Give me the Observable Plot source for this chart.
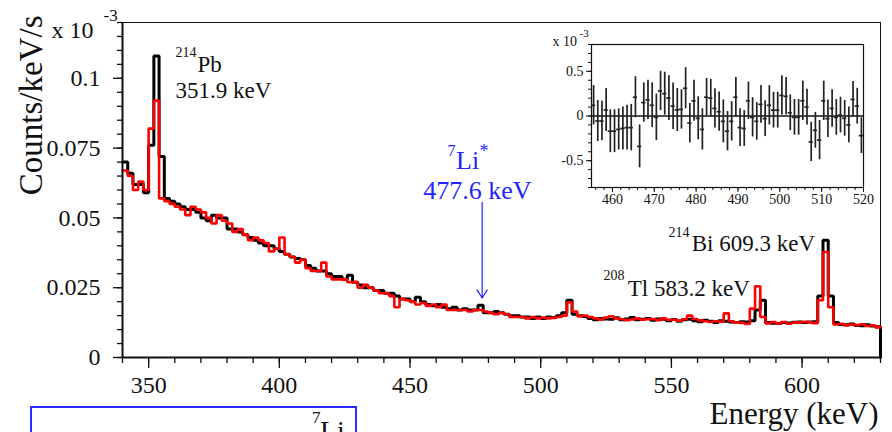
<!DOCTYPE html>
<html><head><meta charset="utf-8">
<script src="https://cdn.jsdelivr.net/npm/d3@7"></script>
<script src="https://cdn.jsdelivr.net/npm/@observablehq/plot@0.6"></script>
<style>
html, body { margin:0; padding:0; overflow:hidden; background:#fff; }
#wrap { position:relative; width:892px; height:432px; font-family:"Liberation Serif", "Times New Roman", serif; color:#111; }
#wrap svg, #wrap svg text { font-family:"Liberation Serif", "Times New Roman", serif !important; }
#inset { position:absolute; left:540px; top:20px; }
#box { position:absolute; left:30px; top:406px; width:323px; height:60px; border:2px solid #2a2aff; }
.lab { position:absolute; line-height:1; white-space:nowrap; font-family:"Liberation Serif", serif; }
</style>
</head><body>
<div id="wrap"><div id="main"></div><div id="inset"></div><div id="box"></div>
<span class="lab" style="left:312px; top:409px; font-size:17px;">7</span>
<span class="lab" style="left:320px; top:417px; font-size:28px;">Li</span>
</div>
<script>
// ---- Main spectrum: 2 keV bins starting at 340 keV (Counts/keV/s, x 10^-3)
const binStart = 340, binWidth = 2;
const blackCounts = [
 0.070, 0.066, 0.062, 0.062, 0.059, 0.076, 0.108, 0.072, 0.057, 0.056,
 0.055, 0.054, 0.053, 0.053, 0.052, 0.050, 0.049, 0.051, 0.050, 0.050,
 0.046, 0.046, 0.045, 0.044, 0.043, 0.042, 0.041, 0.040, 0.040, 0.039,
 0.038, 0.037, 0.036, 0.0355, 0.035, 0.033, 0.032, 0.031, 0.031, 0.030,
 0.029, 0.029, 0.028, 0.0295, 0.027, 0.026, 0.025, 0.025, 0.024, 0.024,
 0.023, 0.023, 0.022, 0.021, 0.021, 0.020, 0.0216, 0.020, 0.019, 0.0185,
 0.019, 0.018, 0.0175, 0.018, 0.017, 0.0175, 0.017, 0.017, 0.0187, 0.016,
 0.016, 0.0165, 0.016, 0.0155, 0.015, 0.015, 0.0145, 0.0145, 0.014, 0.0145,
 0.014, 0.0145, 0.0143, 0.015, 0.016, 0.0205, 0.0155, 0.015, 0.0147, 0.014,
 0.0135, 0.014, 0.0138, 0.0137, 0.0142, 0.0135, 0.0138, 0.0143, 0.0135, 0.0137,
 0.014, 0.0133, 0.0138, 0.0137, 0.0132, 0.0136, 0.013, 0.0135, 0.0137, 0.0132,
 0.0128, 0.0133, 0.013, 0.0125, 0.0132, 0.013, 0.0127, 0.0125, 0.0128, 0.0127,
 0.0132, 0.017, 0.0205, 0.0125, 0.0123, 0.0122, 0.0125, 0.0124, 0.0126, 0.0127,
 0.0125, 0.0127, 0.0128, 0.022, 0.042, 0.022, 0.0125, 0.0118, 0.0117, 0.012,
 0.0115, 0.0114, 0.0117, 0.0113, 0.011
];
const redCounts = [
 0.067, 0.065, 0.060, 0.063, 0.060, 0.082, 0.092, 0.057, 0.056, 0.055,
 0.054, 0.053, 0.051, 0.054, 0.053, 0.052, 0.050, 0.048, 0.051, 0.049,
 0.048, 0.045, 0.046, 0.044, 0.042, 0.043, 0.042, 0.041, 0.038, 0.039,
 0.043, 0.037, 0.036, 0.034, 0.035, 0.032, 0.031, 0.031, 0.034, 0.029,
 0.028, 0.028, 0.028, 0.027, 0.027, 0.025, 0.026, 0.025, 0.024, 0.023,
 0.023, 0.022, 0.018, 0.021, 0.0205, 0.020, 0.019, 0.0195, 0.0185, 0.019,
 0.018, 0.019, 0.017, 0.017, 0.017, 0.017, 0.0165, 0.017, 0.017, 0.0165,
 0.016, 0.0155, 0.016, 0.0155, 0.0145, 0.0145, 0.0145, 0.014, 0.0145, 0.014,
 0.0143, 0.014, 0.0142, 0.0145, 0.015, 0.0198, 0.0165, 0.0148, 0.015, 0.0145,
 0.014, 0.0135, 0.0143, 0.0148, 0.014, 0.0137, 0.0134, 0.0136, 0.014, 0.0135,
 0.0137, 0.0138, 0.0134, 0.014, 0.0135, 0.0135, 0.0132, 0.0137, 0.015, 0.0138,
 0.0133, 0.013, 0.0127, 0.013, 0.0128, 0.0158, 0.013, 0.0125, 0.0124, 0.012,
 0.0175, 0.0255, 0.0145, 0.0122, 0.0127, 0.0122, 0.0127, 0.0121, 0.0125, 0.0126,
 0.0128, 0.0126, 0.0123, 0.0205, 0.0378, 0.018, 0.0118, 0.0121, 0.0115, 0.0118,
 0.0116, 0.0119, 0.0113, 0.0115, 0.0108
];
const xDomain = [340, 630];
const yDomain = [0, 0.12];
const xMajorTicks = [350, 400, 450, 500, 550, 600];
const yMajorTicks = [0, 0.025, 0.05, 0.075, 0.1];

// ---- Inset residuals (x 10^-3), 1 keV bins
const residStart = 455.5;
const residuals = [
 0.12, -0.056, -0.056, 0.067, -0.17, -0.17, -0.15, -0.14, -0.13, -0.13,
 0.21, -0.34, 0.15, 0.18, 0.12, -0.015, 0.28, 0.25, 0.20, 0.11,
 0.067, 0.074, 0.31, -0.08, 0.17, -0.026, -0.15, 0.21, 0.20, 0.085,
 0.048, -0.06, -0.17, -0.06, 0.21, -0.13, -0.14, 0.17, -0.015, -0.06,
 0.13, -0.03, 0.12, 0.065, 0.065, 0.23, 0.22, 0.036, -0.015, -0.015,
 0.17, 0.10, -0.29, -0.16, -0.27, 0.17, -0.03, 0.085, -0.015, 0.01,
 -0.026, -0.1, 0.185, 0.11, -0.22
];
const residErrors = [
 0.22, 0.23, 0.22, 0.24, 0.24, 0.24, 0.23, 0.24, 0.25, 0.26,
 0.23, 0.24, 0.22, 0.22, 0.25, 0.26, 0.22, 0.24, 0.25, 0.26,
 0.24, 0.22, 0.23, 0.22, 0.23, 0.24, 0.23, 0.21, 0.21, 0.22,
 0.22, 0.24, 0.22, 0.22, 0.22, 0.21, 0.20, 0.21, 0.22, 0.21,
 0.21, 0.20, 0.22, 0.20, 0.20, 0.22, 0.21, 0.20, 0.20, 0.20,
 0.22, 0.20, 0.22, 0.20, 0.22, 0.22, 0.21, 0.21, 0.20, 0.20,
 0.20, 0.20, 0.20, 0.20, 0.20
];
const insetXTicks = [460, 470, 480, 490, 500, 510, 520];
const insetYTicks = [-0.5, 0, 0.5];

// ---- Annotations (position in data units)
const blackLabels = [
 {e: 360.3, v: 0.1075, text: "214", size: 14},
 {e: 368.7, v: 0.1021, text: "Pb", size: 23},
 {e: 360.3, v: 0.0931, text: "351.9 keV", size: 23},
 {e: 524.0, v: 0.0279, text: "208", size: 14},
 {e: 533.3, v: 0.0222, text: "Tl 583.2 keV", size: 23},
 {e: 548.9, v: 0.0430, text: "214", size: 14},
 {e: 557.8, v: 0.0383, text: "Bi 609.3 keV", size: 23}
];
const blueLabels = [
 {e: 464.3, v: 0.0723, text: "7", size: 16},
 {e: 467.6, v: 0.0677, text: "Li", size: 26},
 {e: 476.6, v: 0.0718, text: "*", size: 18}
];
const blueEnergyLabel = [{e: 475.8, v: 0.0566, text: "477.6 keV", size: 26}];
const liArrow = [{e: 477.6, from: 0.0556, to: 0.0213}];

const font = "'Liberation Serif', 'Times New Roman', serif";
const ink = "#111";
const blue = "#2424ff";

const blackData = blackCounts.map((v, i) => ({e: binStart + i * binWidth, v}));
blackData.push({e: binStart + blackCounts.length * binWidth, v: blackCounts[blackCounts.length - 1]});
blackData.push({e: xDomain[1], v: 0});
const redData = redCounts.map((v, i) => ({e: binStart + i * binWidth, v}));
redData.push({e: binStart + redCounts.length * binWidth, v: redCounts[redCounts.length - 1]});

const main = Plot.plot({
  width: 892, height: 432,
  marginLeft: 122, marginRight: 12, marginTop: 22, marginBottom: 75,
  x: {domain: xDomain},
  y: {domain: yDomain},
  style: {fontFamily: font, color: ink, background: "white", overflow: "visible"},
  marks: [
    Plot.frame({stroke: ink, strokeWidth: 1}),
    Plot.axisX({ticks: d3.range(340, 631, 10), tickSize: 6, tickFormat: () => "", label: null, strokeWidth: 1.3}),
    Plot.axisX({ticks: xMajorTicks, tickSize: 11, tickPadding: 7, fontSize: 24, tickFormat: String, label: null, strokeWidth: 1.3}),
    Plot.axisY({ticks: d3.range(0, 0.1201, 0.005), tickSize: 5, tickFormat: () => "", label: null, strokeWidth: 1.3}),
    Plot.axisY({ticks: yMajorTicks, tickSize: 9, tickPadding: 13, fontSize: 24, tickFormat: String, label: null, strokeWidth: 1.3}),
    Plot.line(blackData, {x: "e", y: "v", curve: "step-after", stroke: "#000", strokeWidth: 3, strokeLinejoin: "miter"}),
    Plot.line(redData, {x: "e", y: "v", curve: "step-after", stroke: "#ff0000", strokeWidth: 2.6, strokeLinejoin: "miter"}),
    Plot.ruleX([xDomain[0]], {stroke: ink, strokeWidth: 2}),
    Plot.ruleY([0], {stroke: ink, strokeWidth: 2}),
    Plot.text(blackLabels, {x: "e", y: "v", text: "text", fontSize: d => d.size, textAnchor: "start", lineAnchor: "bottom", fill: ink}),
    Plot.text(blueLabels, {x: "e", y: "v", text: "text", fontSize: d => d.size, textAnchor: "start", lineAnchor: "bottom", fill: blue}),
    Plot.text(blueEnergyLabel, {x: "e", y: "v", text: "text", fontSize: d => d.size, textAnchor: "middle", lineAnchor: "bottom", fill: blue}),
    Plot.arrow(liArrow, {x: "e", y1: "from", y2: "to", stroke: blue, strokeWidth: 1.2, headAngle: 64, headLength: 12}),
    Plot.text(["Counts/keV/s"], {text: d => d, frameAnchor: "top-left", dx: -91, dy: -7, rotate: -90, textAnchor: "end", lineAnchor: "middle", fontSize: 33, fill: ink}),
    Plot.text(["x 10"], {text: d => d, frameAnchor: "top-left", dx: -71, dy: 15, textAnchor: "start", lineAnchor: "bottom", fontSize: 24, fill: ink}),
    Plot.text(["-3"], {text: d => d, frameAnchor: "top-left", dx: -19, dy: -2, textAnchor: "start", lineAnchor: "bottom", fontSize: 17, fill: ink}),
    Plot.text(["Energy (keV)"], {text: d => d, frameAnchor: "bottom-right", dx: -2, dy: 66, textAnchor: "end", lineAnchor: "bottom", fontSize: 31, fill: ink})
  ]
});
document.getElementById("main").append(main);

const residData = residuals.map((r, i) => ({e: residStart + i, r, err: residErrors[i]}));
const inset = Plot.plot({
  width: 335, height: 185,
  marginLeft: 51, marginRight: 12, marginTop: 24, marginBottom: 18,
  x: {domain: [455, 520]},
  y: {domain: [-0.8, 0.8]},
  style: {fontFamily: font, color: ink, background: "transparent", overflow: "visible"},
  marks: [
    Plot.frame({fill: "white", stroke: ink, strokeWidth: 1.2}),
    Plot.axisX({ticks: d3.range(456, 521, 2), tickSize: 3, tickFormat: () => "", label: null}),
    Plot.axisX({ticks: insetXTicks, tickSize: 5, tickPadding: 2, fontSize: 14, tickFormat: String, label: null}),
    Plot.axisY({ticks: d3.range(-0.8, 0.81, 0.1), tickSize: 3, tickFormat: () => "", label: null}),
    Plot.axisY({ticks: insetYTicks, tickSize: 5, tickPadding: 3, fontSize: 14, tickFormat: String, label: null}),
    Plot.ruleY([0], {stroke: ink, strokeWidth: 1.5}),
    Plot.ruleX(residData, {x: "e", y1: d => d.r - d.err, y2: d => d.r + d.err, stroke: "#222", strokeWidth: 1.7}),
    Plot.ruleY(residData, {y: "r", x1: d => d.e - 0.5, x2: d => d.e + 0.5, stroke: "#222", strokeWidth: 1.7}),
    Plot.text(["x 10"], {text: d => d, frameAnchor: "top-left", dx: -39, dy: 1, textAnchor: "start", lineAnchor: "bottom", fontSize: 14, fill: ink}),
    Plot.text(["-3"], {text: d => d, frameAnchor: "top-left", dx: -12, dy: -8, textAnchor: "start", lineAnchor: "bottom", fontSize: 11, fill: ink})
  ]
});
document.getElementById("inset").append(inset);

// make sure every text uses the serif family
d3.selectAll("#wrap svg text").attr("font-family", font).style("font-family", font);
</script>
</body></html>
